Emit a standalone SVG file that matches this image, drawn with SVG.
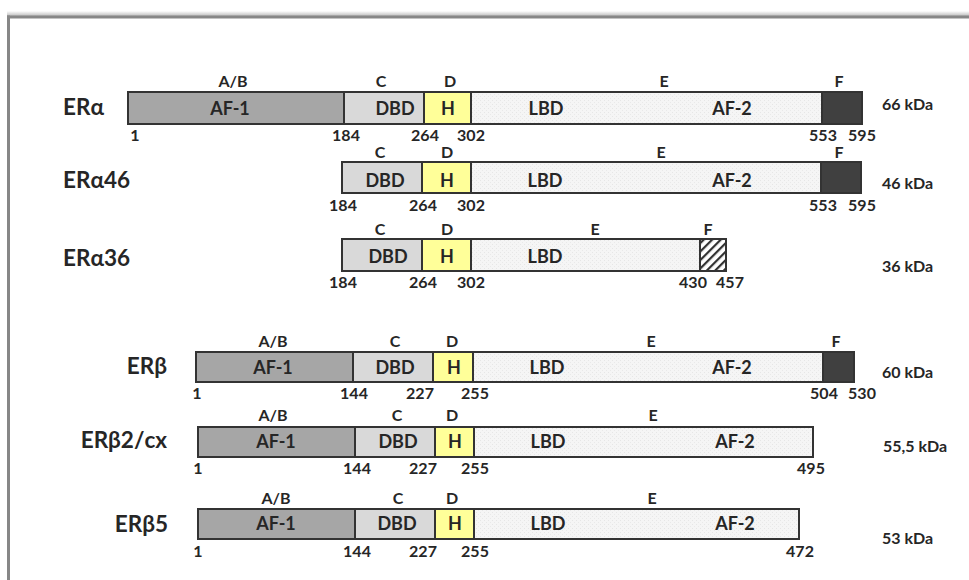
<svg xmlns="http://www.w3.org/2000/svg" width="969" height="580" viewBox="0 0 969 580">
<defs>
<style>
text{font-family:Lato,"Open Sans","DejaVu Sans",sans-serif;font-weight:bold;fill:#262626}
.name{font-size:22.5px}
.in{font-size:18px;text-anchor:middle}
.lb{font-size:16px;text-anchor:middle}
.kda{font-size:16px}
.bar{stroke:#333;stroke-width:2}
.ab{fill:#a6a6a6}
.dbd{fill:#d9d9d9}
.h{fill:#ffff99}
.lbd{fill:url(#dots)}
.f{fill:#404040}
.hatch{fill:url(#hatch)}
.div{stroke:#333;stroke-width:2}
</style>
<pattern id="dots" width="4" height="4" patternUnits="userSpaceOnUse">
<rect width="4" height="4" fill="#f5f5f5"/>
<rect x="0" y="0" width="1" height="1" fill="#e6e6e6"/>
<rect x="2" y="2" width="1" height="1" fill="#e9e9e9"/>
</pattern>
<pattern id="hatch" width="6" height="6" patternUnits="userSpaceOnUse" patternTransform="rotate(45)">
<rect width="6" height="6" fill="#fff"/>
<rect x="0" y="0" width="2.2" height="6" fill="#333"/>
</pattern>
<linearGradient id="shadow" x1="0" y1="0" x2="0" y2="1">
<stop offset="0" stop-color="#fff"/>
<stop offset="1" stop-color="#bdbdbd"/>
</linearGradient>
</defs>
<rect width="969" height="580" fill="#fff"/>
<g id="frame">
<rect x="7" y="11" width="962" height="5" fill="url(#shadow)"/>
<rect x="7" y="15.5" width="962" height="3" fill="#878787"/>
<rect x="7" y="15.5" width="3" height="565" fill="#878787"/>
</g>
<g id="connectors"/>

<g id="ERa">
<text class="name" x="63" y="115">ERα</text>
<rect class="ab" x="128" y="92" width="216" height="32"/>
<rect class="dbd" x="344" y="92" width="80" height="32"/>
<rect class="h" x="424" y="92" width="47" height="32"/>
<rect class="lbd" x="471" y="92" width="351" height="32"/>
<rect class="f" x="822" y="92" width="40" height="32"/>
<rect class="bar" x="128" y="92" width="734" height="32" fill="none"/>
<path class="div" d="M344 92V124M424 92V124M471 92V124M822 92V124"/>
<text class="lb" x="233" y="87">A/B</text><text class="lb" x="381" y="87">C</text><text class="lb" x="450" y="87">D</text><text class="lb" x="664" y="87">E</text><text class="lb" x="839" y="87">F</text>
<text class="in" x="230" y="115">AF-1</text><text class="in" x="395" y="115">DBD</text><text class="in" x="448" y="115">H</text><text class="in" x="546" y="115">LBD</text><text class="in" x="732" y="115">AF-2</text>
<text class="lb" x="135" y="141">1</text><text class="lb" x="346" y="141">184</text><text class="lb" x="425" y="141">264</text><text class="lb" x="471" y="141">302</text><text class="lb" x="823" y="141">553</text><text class="lb" x="862" y="141">595</text>
<text class="kda" x="882" y="110">66 kDa</text>
</g>

<g id="ERa46">
<text class="name" x="63" y="188">ERα46</text>
<rect class="dbd" x="342" y="162" width="80" height="31"/>
<rect class="h" x="422" y="162" width="49" height="31"/>
<rect class="lbd" x="471" y="162" width="350" height="31"/>
<rect class="f" x="821" y="162" width="40" height="31"/>
<rect class="bar" x="342" y="162" width="519" height="31" fill="none"/>
<path class="div" d="M422 162V193M471 162V193M821 162V193"/>
<text class="lb" x="380" y="158">C</text><text class="lb" x="447" y="158">D</text><text class="lb" x="661" y="158">E</text><text class="lb" x="839" y="158">F</text>
<text class="in" x="385" y="187">DBD</text><text class="in" x="447" y="187">H</text><text class="in" x="545" y="187">LBD</text><text class="in" x="732" y="187">AF-2</text>
<text class="lb" x="343" y="211">184</text><text class="lb" x="423" y="211">264</text><text class="lb" x="471" y="211">302</text><text class="lb" x="823" y="211">553</text><text class="lb" x="862" y="211">595</text>
<text class="kda" x="882" y="189">46 kDa</text>
</g>

<g id="ERa36">
<text class="name" x="63" y="266">ERα36</text>
<rect class="dbd" x="342" y="239" width="80" height="32"/>
<rect class="h" x="422" y="239" width="49" height="32"/>
<rect class="lbd" x="471" y="239" width="229" height="32"/>
<rect class="hatch" x="700" y="239" width="26" height="32"/>
<rect class="bar" x="342" y="239" width="384" height="32" fill="none"/>
<path class="div" d="M422 239V271M471 239V271M700 239V271"/>
<text class="lb" x="380" y="235">C</text><text class="lb" x="447" y="235">D</text><text class="lb" x="595" y="235">E</text><text class="lb" x="708" y="235">F</text>
<text class="in" x="388" y="263">DBD</text><text class="in" x="447" y="263">H</text><text class="in" x="545" y="263">LBD</text>
<text class="lb" x="343" y="288">184</text><text class="lb" x="423" y="288">264</text><text class="lb" x="471" y="288">302</text><text class="lb" x="693" y="288">430</text><text class="lb" x="730" y="288">457</text>
<text class="kda" x="882" y="272">36 kDa</text>
</g>

<g id="ERb">
<text class="name" x="167" y="374" text-anchor="end">ERβ</text>
<rect class="ab" x="196" y="352" width="157" height="30"/>
<rect class="dbd" x="353" y="352" width="80" height="30"/>
<rect class="h" x="433" y="352" width="40" height="30"/>
<rect class="lbd" x="473" y="352" width="350" height="30"/>
<rect class="f" x="823" y="352" width="31" height="30"/>
<rect class="bar" x="196" y="352" width="658" height="30" fill="none"/>
<path class="div" d="M353 352V382M433 352V382M473 352V382M823 352V382"/>
<text class="lb" x="273" y="347">A/B</text><text class="lb" x="395" y="347">C</text><text class="lb" x="452" y="347">D</text><text class="lb" x="651" y="347">E</text><text class="lb" x="836" y="347">F</text>
<text class="in" x="273" y="374">AF-1</text><text class="in" x="395" y="374">DBD</text><text class="in" x="454" y="374">H</text><text class="in" x="547" y="374">LBD</text><text class="in" x="732" y="374">AF-2</text>
<text class="lb" x="197" y="399">1</text><text class="lb" x="354" y="399">144</text><text class="lb" x="420" y="399">227</text><text class="lb" x="475" y="399">255</text><text class="lb" x="824" y="399">504</text><text class="lb" x="862" y="399">530</text>
<text class="kda" x="882" y="378">60 kDa</text>
</g>

<g id="ERb2cx">
<text class="name" x="167" y="448" text-anchor="end">ERβ2/cx</text>
<rect class="ab" x="198" y="427" width="157" height="30"/>
<rect class="dbd" x="355" y="427" width="80" height="30"/>
<rect class="h" x="435" y="427" width="39" height="30"/>
<rect class="lbd" x="474" y="427" width="339" height="30"/>
<rect class="bar" x="198" y="427" width="615" height="30" fill="none"/>
<path class="div" d="M355 427V457M435 427V457M474 427V457"/>
<text class="lb" x="273" y="421">A/B</text><text class="lb" x="397" y="421">C</text><text class="lb" x="452" y="421">D</text><text class="lb" x="653" y="421">E</text>
<text class="in" x="276" y="448">AF-1</text><text class="in" x="398" y="448">DBD</text><text class="in" x="455" y="448">H</text><text class="in" x="548" y="448">LBD</text><text class="in" x="735" y="448">AF-2</text>
<text class="lb" x="198" y="474">1</text><text class="lb" x="357" y="474">144</text><text class="lb" x="423" y="474">227</text><text class="lb" x="475" y="474">255</text><text class="lb" x="811" y="474">495</text>
<text class="kda" x="883" y="452">55,5 kDa</text>
</g>

<g id="ERb5">
<text class="name" x="168" y="532" text-anchor="end">ERβ5</text>
<rect class="ab" x="198" y="509" width="157" height="30"/>
<rect class="dbd" x="355" y="509" width="80" height="30"/>
<rect class="h" x="435" y="509" width="39" height="30"/>
<rect class="lbd" x="474" y="509" width="325" height="30"/>
<rect class="bar" x="198" y="509" width="601" height="30" fill="none"/>
<path class="div" d="M355 509V539M435 509V539M474 509V539"/>
<text class="lb" x="276" y="504">A/B</text><text class="lb" x="398" y="504">C</text><text class="lb" x="452" y="504">D</text><text class="lb" x="652" y="504">E</text>
<text class="in" x="276" y="530">AF-1</text><text class="in" x="397" y="530">DBD</text><text class="in" x="455" y="530">H</text><text class="in" x="548" y="530">LBD</text><text class="in" x="735" y="530">AF-2</text>
<text class="lb" x="198" y="557">1</text><text class="lb" x="357" y="557">144</text><text class="lb" x="423" y="557">227</text><text class="lb" x="475" y="557">255</text><text class="lb" x="800" y="557">472</text>
<text class="kda" x="882" y="544">53 kDa</text>
</g>
</svg>
